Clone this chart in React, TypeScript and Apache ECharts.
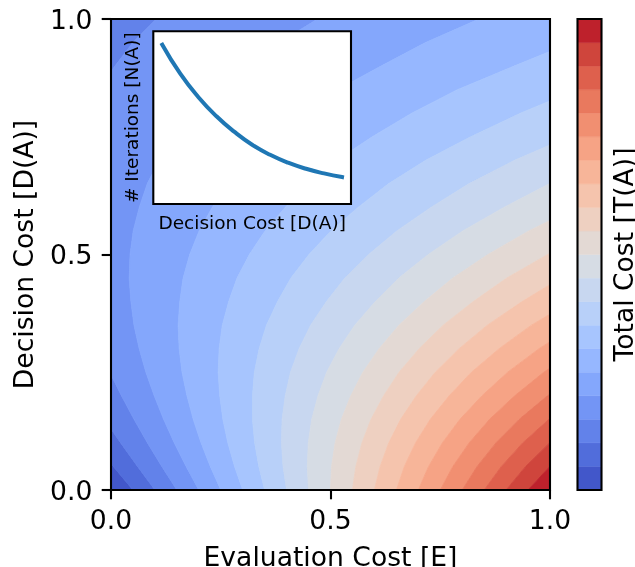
import React, { useEffect, useRef } from 'react';
import * as echarts from 'echarts';

// Decision cost rows (y axis of the main map)
const decisionCost = [0, 0.05, 0.1, 0.15, 0.2, 0.25, 0.3, 0.35, 0.4, 0.45, 0.5, 0.55, 0.6, 0.65, 0.7, 0.75, 0.8, 0.85, 0.9, 0.95, 1.0];
// Relative number of iterations N(A) at each decision-cost row
const iterationFactor = [1.0, 0.905, 0.819, 0.741, 0.67, 0.607, 0.549, 0.497, 0.449, 0.407, 0.368, 0.333, 0.301, 0.273, 0.247, 0.223, 0.202, 0.183, 0.165, 0.15, 0.136];
// Contour levels of total cost T(A) = N(A) * (E + D(A)), 20 bands
const costLevels = [0, 0.05, 0.1, 0.15, 0.2, 0.25, 0.3, 0.35, 0.4, 0.45, 0.5, 0.55, 0.6, 0.65, 0.7, 0.75, 0.8, 0.85, 0.9, 0.95, 1.0];
// Inset curve: # iterations vs decision cost
const insetDecisionCost = [0, 0.1, 0.2, 0.3, 0.4, 0.5, 0.6, 0.7, 0.8, 0.9, 1.0];
const insetIterations = [1.0, 0.818, 0.672, 0.552, 0.454, 0.372, 0.309, 0.259, 0.221, 0.192, 0.169];
const tickValues = [0, 0.5, 1.0];

// matplotlib coolwarm control points (styling)
const CW_R = [0.2298057, 0.26623388, 0.30386891, 0.342804478, 0.38301334, 0.424369608, 0.46666708, 0.509635204, 0.552953156, 0.596262162, 0.639176211, 0.681291281, 0.722193294, 0.761464949, 0.798691636, 0.833466556, 0.865395197, 0.897787179, 0.924127593, 0.944468518, 0.958852946, 0.96732803, 0.969954137, 0.966811177, 0.958003065, 0.943660866, 0.923944917, 0.89904617, 0.869186849, 0.834620542, 0.795631745, 0.752534934, 0.705673158];
const CW_G = [0.298717966, 0.353094838, 0.406535296, 0.458757618, 0.50941904, 0.558148092, 0.604562568, 0.648280772, 0.688929332, 0.726149107, 0.759599947, 0.788964712, 0.813952739, 0.834302879, 0.849786142, 0.860207984, 0.86541021, 0.848937047, 0.827384882, 0.800927443, 0.769767752, 0.734132809, 0.694266682, 0.650421156, 0.602842431, 0.551750968, 0.49730856, 0.439559467, 0.378313092, 0.312874446, 0.24128379, 0.157246067, 0.01555616];
const CW_B = [0.753683153, 0.801466763, 0.84495867, 0.883725899, 0.917387822, 0.945619588, 0.968154911, 0.98478814, 0.995375608, 0.999836203, 0.998151185, 0.990363227, 0.976574709, 0.956945269, 0.931688648, 0.901068838, 0.865395561, 0.820880546, 0.774508472, 0.726736146, 0.678007945, 0.628751763, 0.579375448, 0.530263762, 0.481775914, 0.434243684, 0.387970225, 0.343229596, 0.300267182, 0.259301199, 0.21840022, 0.177901263, 0.150232812];

function coolwarm(t: number): string {
  const x = Math.min(Math.max(t, 0), 1) * 32;
  const i = Math.min(Math.floor(x), 31);
  const f = x - i;
  const c = (a: number[]) => Math.round((a[i] + (a[i + 1] - a[i]) * f) * 255);
  return `rgb(${c(CW_R)},${c(CW_G)},${c(CW_B)})`;
}

const FONT = '"DejaVu Sans", sans-serif';
const FS = 26.6;
const FS_SMALL = 18.5;
const LW = 2.1;

const PLOT = { left: 111, top: 19, width: 439, height: 471 };
const CBAR = { left: 577.5, top: 19, width: 24, height: 471 };
const INSET = { left: 153.3, top: 31.3, width: 197.7, height: 172.7 };

export default function App() {
  const ref = useRef<HTMLDivElement>(null);
  useEffect(() => {
    if (!ref.current) return;
    const chart = echarts.init(ref.current, null, { renderer: 'svg' });
    const nBands = costLevels.length - 1;
    const bandColors = Array.from({ length: nBands }, (_, k) => coolwarm((k + 0.5) / nBands));
    const bandData = Array.from({ length: nBands }, (_, k) => [k]);

    const contourItem = (_params: any, api: any) => {
      const k = api.value(0);
      const lo = costLevels[k];
      const hi = costLevels[k + 1];
      const pts: number[][] = [];
      for (let j = 0; j < decisionCost.length; j++) {
        const d = decisionCost[j];
        pts.push(api.coord([lo / iterationFactor[j] - d, d]));
      }
      for (let j = decisionCost.length - 1; j >= 0; j--) {
        const d = decisionCost[j];
        pts.push(api.coord([hi / iterationFactor[j] - d, d]));
      }
      return {
        type: 'polygon',
        shape: { points: pts },
        style: { fill: bandColors[k], stroke: bandColors[k], lineWidth: 0.8 },
      };
    };

    const colorbarItem = (_params: any, api: any) => {
      const k = api.value(0);
      const p0 = api.coord([0, costLevels[k]]);
      const p1 = api.coord([1, costLevels[k + 1]]);
      return {
        type: 'rect',
        shape: { x: p0[0], y: p1[1], width: p1[0] - p0[0], height: p0[1] - p1[1] },
        style: { fill: bandColors[k], stroke: bandColors[k], lineWidth: 0.5 },
      };
    };

    const tickCommon = {
      axisLine: { show: false },
      axisTick: { show: true, length: 9.3, lineStyle: { color: '#000', width: LW } },
      splitLine: { show: false },
    };
    const labelCommon = {
      fontSize: FS,
      fontFamily: FONT,
      color: '#000',
      lineHeight: FS,
      formatter: (v: number) => v.toFixed(1),
    };

    const borderRect = (r: any) => ({
      type: 'rect',
      z: 50,
      shape: { x: r.left, y: r.top, width: r.width, height: r.height },
      style: { fill: 'none', stroke: '#000', lineWidth: LW },
      silent: true,
    });
    const label = (text: string, x: number, y: number, size: number, rot: number) => ({
      type: 'text',
      z: 50,
      x,
      y,
      rotation: rot,
      style: {
        text,
        fontSize: size,
        fontFamily: FONT,
        fill: '#000',
        align: 'center',
        verticalAlign: 'middle',
      },
      silent: true,
    });

    chart.setOption({
      animation: false,
      grid: [
        { ...PLOT, containLabel: false },
        { ...CBAR, containLabel: false },
        { ...INSET, containLabel: false },
      ],
      xAxis: [
        {
          gridIndex: 0, type: 'value', min: tickValues[0], max: tickValues[2], interval: tickValues[1],
          ...tickCommon,
          axisLabel: { ...labelCommon, margin: 16.3 },
        },
        { gridIndex: 1, type: 'value', min: 0, max: 1, show: false },
        { gridIndex: 2, type: 'value', min: -0.05, max: 1.05, show: false },
      ],
      yAxis: [
        {
          gridIndex: 0, type: 'value', min: tickValues[0], max: tickValues[2], interval: tickValues[1],
          ...tickCommon,
          axisLabel: { ...labelCommon, margin: 18.6 },
        },
        { gridIndex: 1, type: 'value', min: 0, max: 1, show: false },
        { gridIndex: 2, type: 'value', min: 0, max: 1.084, show: false },
      ],
      series: [
        {
          type: 'custom',
          xAxisIndex: 0,
          yAxisIndex: 0,
          data: bandData,
          renderItem: contourItem,
          clip: true,
          z: 2,
          silent: true,
        },
        {
          type: 'custom',
          xAxisIndex: 1,
          yAxisIndex: 1,
          data: bandData,
          renderItem: colorbarItem,
          clip: true,
          z: 2,
          silent: true,
        },
        {
          type: 'line',
          xAxisIndex: 2,
          yAxisIndex: 2,
          data: insetDecisionCost.map((d, i) => [d, insetIterations[i]]),
          smooth: true,
          symbol: 'none',
          showSymbol: false,
          clip: false,
          lineStyle: { color: '#1f77b4', width: 4, cap: 'square' },
          z: 10,
          silent: true,
        },
      ],
      graphic: [
        {
          type: 'rect',
          z: 5,
          shape: { x: INSET.left, y: INSET.top, width: INSET.width, height: INSET.height },
          style: { fill: '#ffffff' },
          silent: true,
        },
        borderRect(PLOT),
        borderRect(CBAR),
        borderRect(INSET),
        label('Evaluation Cost [E]', PLOT.left + PLOT.width / 2, 556.8, FS, 0),
        label('Decision Cost [D(A)]', 23.9, PLOT.top + PLOT.height / 2, FS, Math.PI / 2),
        label('Total Cost [T(A)]', 623.3, CBAR.top + CBAR.height / 2, FS, Math.PI / 2),
        label('Decision Cost [D(A)]', INSET.left + INSET.width / 2, 222.9, FS_SMALL, 0),
        label('# Iterations [N(A)]', 131.9, INSET.top + INSET.height / 2, FS_SMALL, Math.PI / 2),
      ],
    });
    return () => chart.dispose();
  }, []);
  return <div ref={ref} style={{ position: 'fixed', left: 0, top: 0, width: 635, height: 567 }} />;
}
